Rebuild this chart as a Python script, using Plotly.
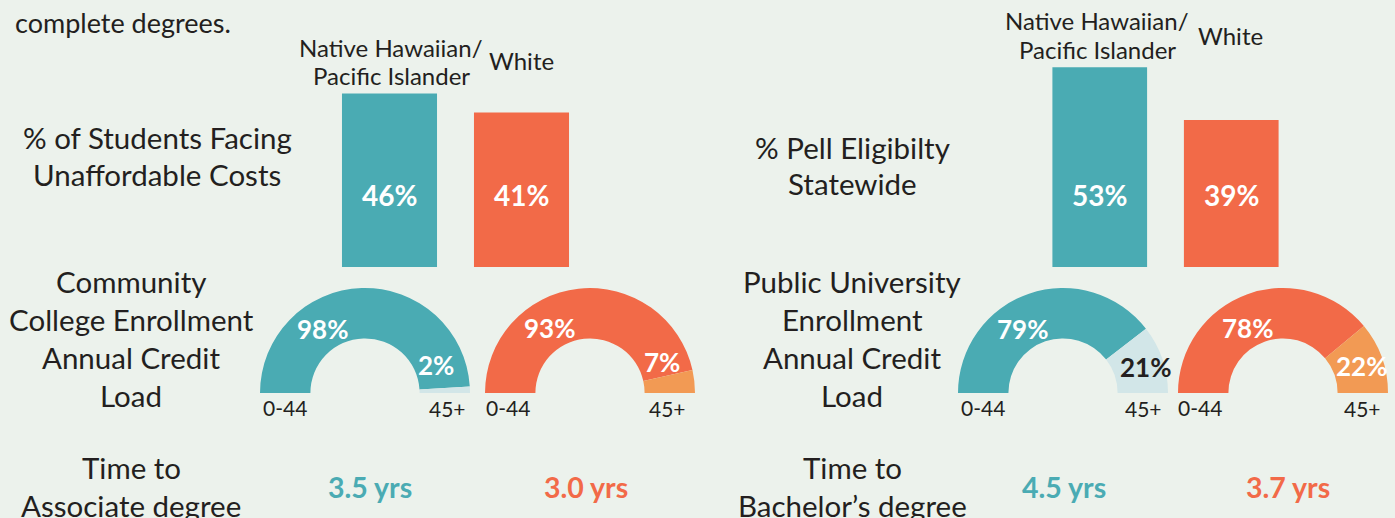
import plotly.graph_objects as go

W, H = 1395, 518
BG = "#ECF2EC"
TEAL = "#4AABB3"
ORANGE = "#F26A48"
LTEAL = "#D2E6E8"
LORANGE = "#F29A54"
DARK = "#231F20"
FONT = "Lato"

# ---- data ----
groups = ["Native Hawaiian/Pacific Islander", "White"]
unaffordable = [46, 41]          # % of students facing unaffordable costs
pell = [53, 39]                  # % Pell eligibility statewide
cc_load_0_44 = [98, 93]          # community college annual credit load 0-44
cc_load_45 = [2, 7]              # 45+
uni_load_0_44 = [79, 78]         # public university annual credit load 0-44
uni_load_45 = [21, 22]           # 45+
time_associate = [3.5, 3.0]
time_bachelor = [4.5, 3.7]
load_bins = ["0-44", "45+"]


def px(x):
    return x / W


def py(y):
    return (H - y) / H


fig = go.Figure()

# ---- bars ----
fig.add_trace(go.Bar(x=groups, y=unaffordable, marker=dict(color=[TEAL, ORANGE], line=dict(width=0)),
                     xaxis="x", yaxis="y", hoverinfo="skip"))
fig.add_trace(go.Bar(x=groups, y=pell, marker=dict(color=[TEAL, ORANGE], line=dict(width=0)),
                     xaxis="x2", yaxis="y2", hoverinfo="skip"))

ann = []
for i, g in enumerate(groups):
    ann.append(dict(x=g, y=19, xref="x", yref="y", text=f"<b>{unaffordable[i]}%</b>", showarrow=False,
                    font=dict(size=28, color="white", family=FONT)))
    ann.append(dict(x=g, y=19, xref="x2", yref="y2", text=f"<b>{pell[i]}%</b>", showarrow=False,
                    font=dict(size=28, color="white", family=FONT)))

# ---- half donuts ----
R = 105
donuts = [
    (365, 393, cc_load_0_44[0], cc_load_45[0], TEAL, LTEAL),
    (590, 393, cc_load_0_44[1], cc_load_45[1], ORANGE, LORANGE),
    (1063, 393, uni_load_0_44[0], uni_load_45[0], TEAL, LTEAL),
    (1283, 393, uni_load_0_44[1], uni_load_45[1], ORANGE, LORANGE),
]
for cx, cy, a, b, c1, c2 in donuts:
    fig.add_trace(go.Pie(
        values=[a, b, a + b], labels=load_bins + ["hidden"], sort=False, direction="clockwise",
        rotation=270, hole=0.52, textinfo="none", hoverinfo="skip", showlegend=False,
        marker=dict(colors=[c1, c2, "rgba(0,0,0,0)"], line=dict(width=0)),
        domain=dict(x=[px(cx - R), px(cx + R)], y=[py(cy + R), py(cy - R)]),
    ))


def text(x, y, s, size=20, color=DARK, bold=False, anchor="center"):
    ann.append(dict(x=px(x), y=py(y), xref="paper", yref="paper", text=f"<b>{s}</b>" if bold else s,
                    showarrow=False, xanchor=anchor, yanchor="middle",
                    font=dict(size=size, color=color, family=FONT)))


# donut labels
donut_txt = [
    (322, 329, f"{cc_load_0_44[0]}%", "white"), (436, 365, f"{cc_load_45[0]}%", "white"),
    (549, 328, f"{cc_load_0_44[1]}%", "white"), (662, 362, f"{cc_load_45[1]}%", "white"),
    (1022, 329, f"{uni_load_0_44[0]}%", "white"), (1145, 367, f"{uni_load_45[0]}%", DARK),
    (1247, 328, f"{uni_load_0_44[1]}%", "white"), (1361, 366, f"{uni_load_45[1]}%", "white"),
]
for x, y, s, c in donut_txt:
    text(x, y, s, size=26, color=c, bold=True)

for x0, x1 in [(285, 447), (508, 667), (983, 1143), (1200, 1362)]:
    text(x0, 407, load_bins[0], size=21)
    text(x1, 408, load_bins[1], size=21)

# group headers
HS = 24
text(391, 47, "Native Hawaiian/", size=HS)
text(391, 75, "Pacific Islander", size=HS)
text(521, 61, "White", size=HS)
text(1097, 20, "Native Hawaiian/", size=HS)
text(1097, 49, "Pacific Islander", size=HS)
text(1230, 36, "White", size=HS)

# top-left intro
text(13, 22, "complete degrees.", size=27, anchor="left")

# row labels
RS = 29.5
for i, s in enumerate(["% of Students Facing", "Unaffordable Costs"]):
    text(157, 137 + 37 * i, s, size=RS)
for i, s in enumerate(["% Pell Eligibilty", "Statewide"]):
    text(852, 147 + 37 * i, s, size=RS)
for i, s in enumerate(["Community", "College Enrollment", "Annual Credit", "Load"]):
    text(131, 281 + 38 * i, s, size=RS)
for i, s in enumerate(["Public University", "Enrollment", "Annual Credit", "Load"]):
    text(852, 281 + 38 * i, s, size=RS)
for i, s in enumerate(["Time to", "Associate degree"]):
    text(131, 467 + 38 * i, s, size=RS)
for i, s in enumerate(["Time to", "Bachelor\u2019s degree"]):
    text(852, 467 + 38 * i, s, size=RS)

# time values
TS = 28.5
text(370, 487, f"{time_associate[0]:.1f} yrs", size=TS, color=TEAL, bold=True)
text(586, 487, f"{time_associate[1]:.1f} yrs", size=TS, color=ORANGE, bold=True)
text(1064, 487, f"{time_bachelor[0]:.1f} yrs", size=TS, color=TEAL, bold=True)
text(1288, 487, f"{time_bachelor[1]:.1f} yrs", size=TS, color=ORANGE, bold=True)

ymax = 210 / 3.77
fig.update_layout(
    width=W, height=H, margin=dict(l=0, r=0, t=0, b=0),
    paper_bgcolor=BG, plot_bgcolor="rgba(0,0,0,0)", showlegend=False,
    bargap=0.28,
    xaxis=dict(domain=[px(323.5), px(587.5)], range=[-0.5, 1.5], visible=False, fixedrange=True),
    yaxis=dict(domain=[py(267), py(57)], range=[0, ymax], visible=False, fixedrange=True),
    xaxis2=dict(domain=[px(1034), px(1297)], range=[-0.5, 1.5], visible=False, fixedrange=True,
                anchor="y2"),
    yaxis2=dict(domain=[py(267), py(57)], range=[0, ymax], visible=False, fixedrange=True, anchor="x2"),
    annotations=ann,
)

fig.write_html(
    "out.html",
    config={"displayModeBar": False},
    post_script="document.body.style.margin='0';document.body.style.overflow='hidden';"
                "document.body.style.background='" + BG + "';",
)
